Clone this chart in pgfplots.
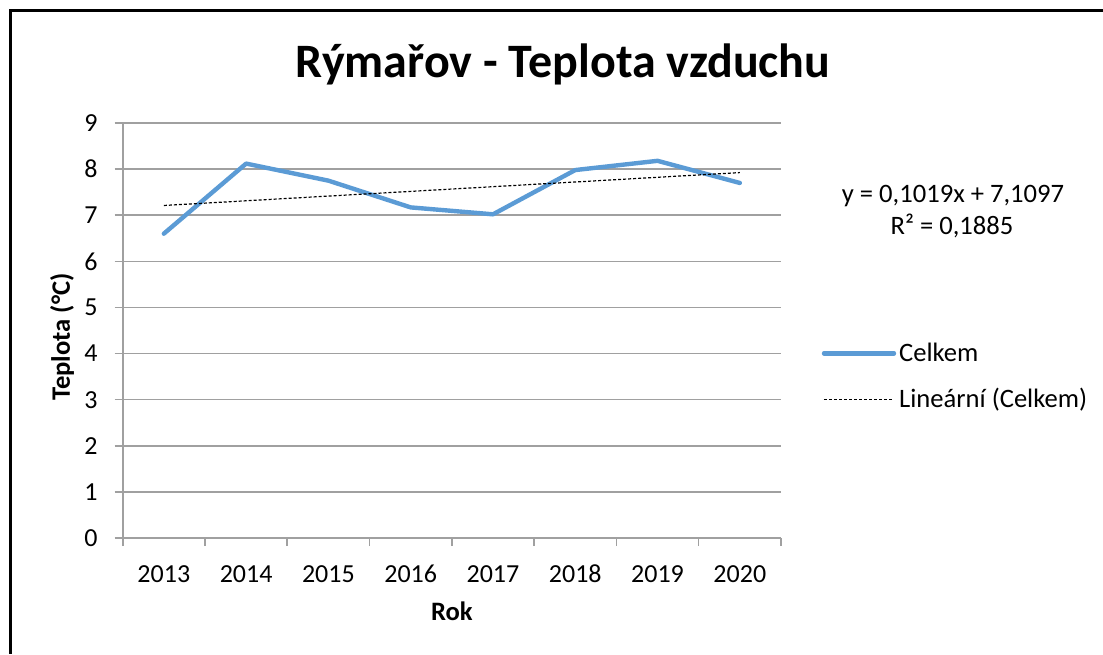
\documentclass[border=0pt]{standalone}
\usepackage{pgfplots}
\pgfplotsset{compat=1.18}
\usepackage{fontspec}
\setmainfont{Carlito}
\definecolor{celkem}{RGB}{91,155,213}
\definecolor{gridgray}{RGB}{160,160,160}

\begin{document}
\begin{tikzpicture}
\useasboundingbox (0,0) rectangle (551.5pt,327pt);
% chart frame, only left and top edges are visible in the crop
\fill[black] (4.5pt,0pt) rectangle (6pt,322.25pt);
\fill[black] (4.5pt,320.75pt) rectangle (551.5pt,322.25pt);

\begin{axis}[
  scale only axis,
  width=329.15pt,
  height=207.5pt,
  at={(61.35pt,58pt)},
  anchor=south west,
  xmin=0.5, xmax=8.5,
  ymin=0, ymax=9,
  xtick={0.5,1.5,...,8.5},
  xticklabels={},
  extra x ticks={1,2,3,4,5,6,7,8},
  extra x tick labels={2013,2014,2015,2016,2017,2018,2019,2020},
  extra x tick style={major tick length=0pt, grid=none},
  ytick={0,1,...,9},
  ymajorgrids=true,
  grid style={gridgray, line width=0.8pt},
  axis x line*=bottom,
  axis y line*=left,
  axis line style={gridgray, line width=0.8pt, -},
  tick style={gridgray, line width=0.8pt},
  tick align=outside,
  major tick length=4pt,
  /pgf/number format/assume math mode=true,
  tick label style={font=\fontsize{13}{15}\selectfont},
  xticklabel style={yshift=-9.5pt, text height=9pt, text depth=0pt},
  yticklabel style={xshift=-5pt},
  xlabel={\textbf{Rok}},
  ylabel={\textbf{Teplota (°C)}},
  label style={font=\fontsize{13.3}{15}\selectfont},
  xlabel style={at={(axis description cs:0.5,-0.2)}, anchor=base},
  ylabel style={at={(axis description cs:-0.092,0.484)}, anchor=center},
  legend style={at={(axis description cs:1.062,0.389)}, anchor=west,
    draw=none, fill=none, font=\fontsize{13.3}{15}\selectfont,
    row sep=9pt, inner sep=0pt, outer sep=0pt,
    nodes={inner sep=1.5pt}},
  legend cell align=left,
  legend image code/.code={\draw[#1] (0pt,0pt) -- (35pt,0pt);},
]
\addplot[celkem, line width=2.2pt, line join=round, line cap=round]
  coordinates {(1,6.60) (2,8.12) (3,7.75) (4,7.17) (5,7.02) (6,7.98) (7,8.18) (8,7.70)};
\addlegendentry{Celkem}
\addplot[black, line width=0.6pt, dash pattern=on 1.5pt off 1pt]
  coordinates {(1,7.2116) (8,7.9249)};
\addlegendentry{Lineární (Celkem)}
\end{axis}

\node[anchor=base, font=\fontsize{24}{28}\selectfont\bfseries] at (281.5pt,288.4pt) {Rýmařov - Teplota vzduchu};
\node[anchor=base, font=\fontsize{13.3}{15}\selectfont] at (476.5pt,225.5pt) {y = 0,1019x + 7,1097};
\node[anchor=base, font=\fontsize{13.3}{15}\selectfont] at (476pt,209.5pt) {R² = 0,1885};
\end{tikzpicture}
\end{document}
